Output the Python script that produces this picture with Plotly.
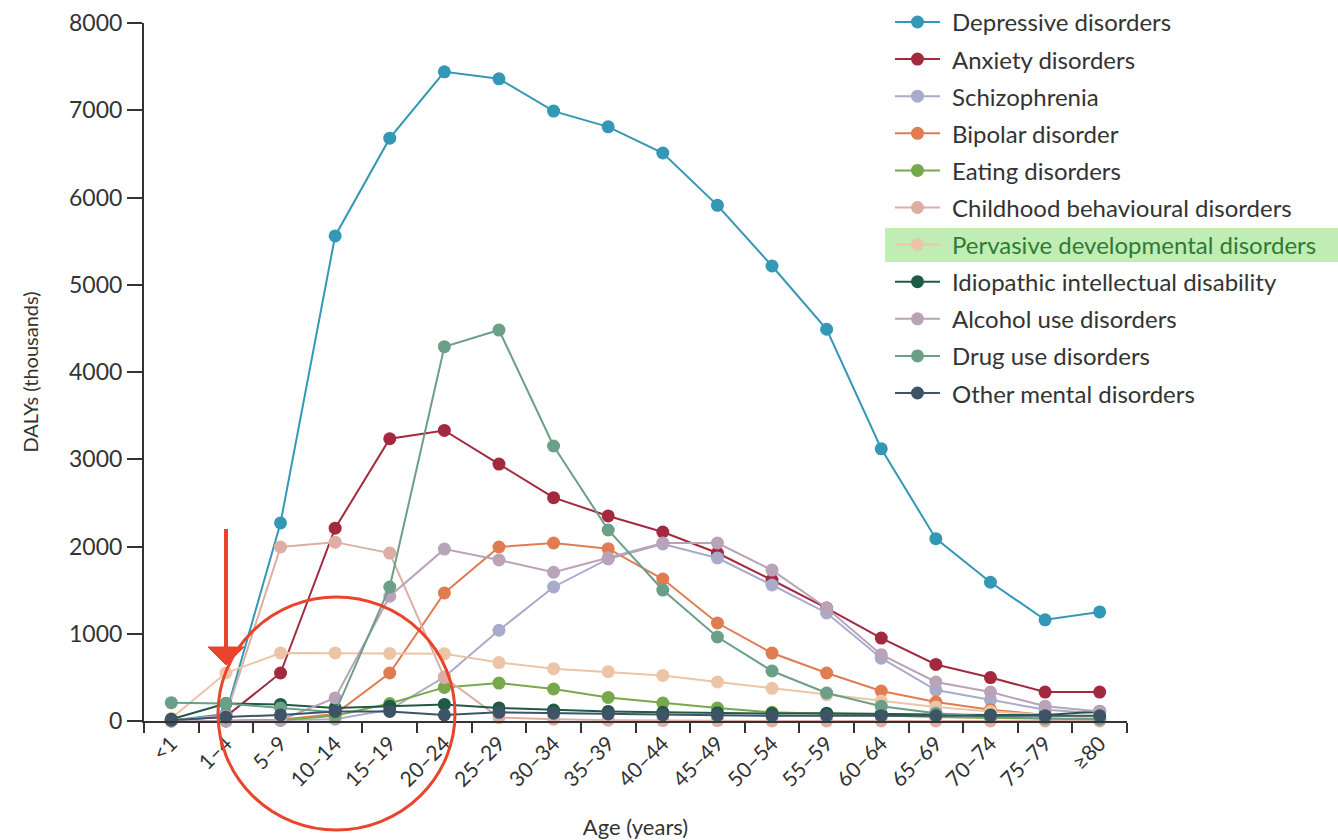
import plotly.graph_objects as go

ages = ["<1", "1–4", "5–9", "10–14", "15–19", "20–24", "25–29", "30–34", "35–39",
        "40–44", "45–49", "50–54", "55–59", "60–64", "65–69", "70–74", "75–79", "≥80"]

depressive = [5, 80, 2270, 5560, 6680, 7440, 7360, 6990, 6810, 6510, 5910, 5215, 4490, 3120, 2090, 1590, 1160, 1250]
anxiety = [5, 50, 550, 2210, 3235, 3330, 2945, 2560, 2350, 2166, 1925, 1616, 1295, 951, 648, 498, 332, 332]
schizophrenia = [0, 0, 10, 20, 130, 504, 1040, 1536, 1857, 2029, 1868, 1559, 1238, 720, 355, 241, 130, 90]
bipolar = [0, 0, 15, 80, 550, 1467, 1994, 2040, 1975, 1627, 1123, 779, 550, 344, 218, 130, 70, 40]
eating = [0, 0, 10, 60, 200, 385, 435, 367, 270, 206, 149, 100, 80, 60, 45, 35, 25, 20]
childhood = [10, 60, 1994, 2050, 1925, 500, 40, 20, 10, 5, 5, 0, 0, 0, 0, 0, 0, 0]
pervasive = [30, 550, 780, 780, 775, 770, 670, 600, 565, 522, 447, 375, 300, 230, 160, 110, 70, 40]
idiopathic = [20, 200, 190, 150, 170, 190, 150, 126, 110, 100, 95, 85, 90, 80, 75, 70, 70, 110]
alcohol = [0, 0, 10, 264, 1430, 1970, 1845, 1705, 1870, 2040, 2040, 1730, 1295, 760, 447, 332, 170, 110]
drug = [210, 200, 150, 100, 1536, 4290, 4481, 3152, 2189, 1501, 963, 573, 321, 170, 90, 50, 30, 20]
other = [10, 46, 70, 110, 110, 70, 100, 90, 80, 70, 65, 60, 60, 60, 60, 60, 60, 60]

names = ["Depressive disorders", "Anxiety disorders", "Schizophrenia", "Bipolar disorder",
         "Eating disorders", "Childhood behavioural disorders", "Pervasive developmental disorders",
         "Idiopathic intellectual disability", "Alcohol use disorders", "Drug use disorders",
         "Other mental disorders"]
values = [depressive, anxiety, schizophrenia, bipolar, eating, childhood, pervasive,
          idiopathic, alcohol, drug, other]
colors = ["#3398b6", "#a32a3e", "#a9abcb", "#e07c52", "#78a84c", "#dcaea4", "#ecc4a6",
          "#1f5a47", "#b9a3b9", "#6b9f88", "#3e5466"]

W, H = 1338, 840
ML, MR, MT, MB = 144, 211, 23, 119
PW, PH = W - ML - MR, H - MT - MB


def px(xpix):
    return (xpix - ML) / PW


def py(ypix):
    return (H - MB - ypix) / PH


FONT = "Lato"
TXT = "#333333"
RED = "#e8452c"
fig = go.Figure()
for name, vals, col in zip(names, values, colors):
    fig.add_trace(go.Scatter(
        x=ages, y=vals, name=name, mode="lines+markers",
        line=dict(color=col, width=2),
        marker=dict(color=col, size=13),
        cliponaxis=False, showlegend=False,
    ))

shapes = []
annotations = []
# highlight behind one legend entry
shapes.append(dict(type="rect", xref="paper", yref="paper",
                   x0=px(885), x1=px(1338), y0=py(262), y1=py(228),
                   fillcolor="rgba(150,225,130,0.6)", line=dict(width=0), layer="below"))
# custom legend
for i, (name, col) in enumerate(zip(names, colors)):
    yc = py(22 + 37.1 * i)
    shapes.append(dict(type="line", xref="paper", yref="paper",
                       x0=px(895), x1=px(940), y0=yc, y1=yc,
                       line=dict(color=col, width=2), layer="above"))
    shapes.append(dict(type="circle", xref="paper", yref="paper",
                       xsizemode="pixel", ysizemode="pixel",
                       xanchor=px(917.5), yanchor=yc, x0=-6.5, x1=6.5, y0=-6.5, y1=6.5,
                       fillcolor=col, line=dict(color=col, width=0), layer="above"))
    tcol = "#2f7a34" if name.startswith("Pervasive") else TXT
    annotations.append(dict(xref="paper", yref="paper", x=px(950), y=yc,
                            xanchor="left", yanchor="middle", showarrow=False,
                            text=name, font=dict(family=FONT, size=24, color=tcol)))

# red circle
shapes.append(dict(type="circle", xref="paper", yref="paper",
                   x0=px(218), x1=px(455), y0=py(830), y1=py(597),
                   line=dict(color=RED, width=3), layer="above"))
# red arrow
shapes.append(dict(type="line", xref="paper", yref="paper",
                   x0=px(226), x1=px(226), y0=py(529), y1=py(652),
                   line=dict(color=RED, width=4), layer="above"))
shapes.append(dict(type="path", xref="paper", yref="paper",
                   path=f"M {px(208)},{py(647)} L {px(244)},{py(647)} L {px(226)},{py(665)} Z",
                   fillcolor=RED, line=dict(color=RED, width=1), layer="above"))

fig.update_layout(
    width=W, height=H,
    margin=dict(l=ML, r=MR, t=MT, b=MB),
    paper_bgcolor="white", plot_bgcolor="white",
    font=dict(family=FONT, size=20, color=TXT),
    showlegend=False,
    shapes=shapes, annotations=annotations,
    xaxis=dict(
        range=[-0.5, 17.5], tickangle=-45, tickson="boundaries", automargin=False,
        ticks="outside", ticklen=10, tickwidth=2, tickcolor=TXT,
        showline=True, linecolor=TXT, linewidth=2, showgrid=False, zeroline=False,
        tickfont=dict(family=FONT, size=21, color=TXT),
        title=dict(text="Age (years)", font=dict(family=FONT, size=22, color=TXT), standoff=40),
    ),
    yaxis=dict(
        range=[0, 8000], tickvals=[0, 1000, 2000, 3000, 4000, 5000, 6000, 7000, 8000],
        automargin=False,
        ticks="outside", ticklen=15, tickwidth=2, tickcolor=TXT,
        showline=True, linecolor=TXT, linewidth=2, showgrid=False, zeroline=False,
        tickfont=dict(family=FONT, size=23, color=TXT),
        title=dict(text="DALYs (thousands)", font=dict(family=FONT, size=20, color=TXT), standoff=25),
    ),
)

fig.write_html("out.html", config={"displayModeBar": False},
               post_script="document.body.style.margin='0';")
